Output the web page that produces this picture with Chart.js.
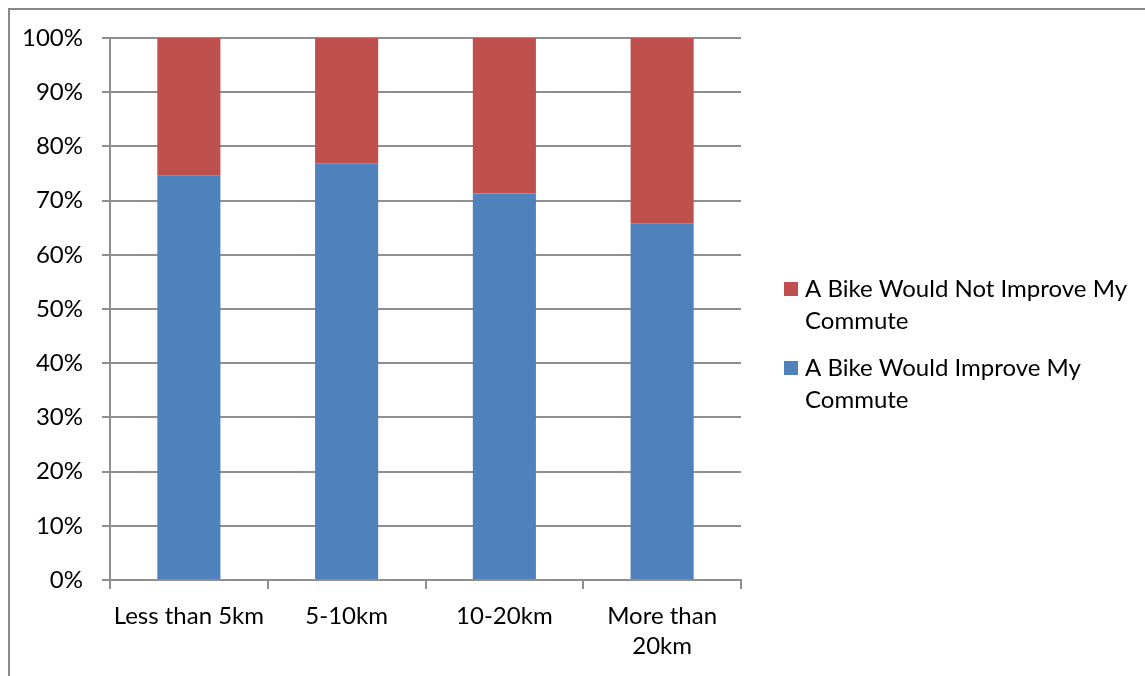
<!DOCTYPE html>
<html>
<head>
<meta charset="utf-8">
<title>Would a bike improve your commute?</title>
<script src="https://cdn.jsdelivr.net/npm/chart.js@4.4.1/dist/chart.umd.min.js"></script>
<style>
  html, body { margin: 0; padding: 0; background: #ffffff; }
  canvas { display: block; }
</style>
</head>
<body>
<canvas id="chart" width="1145" height="676"></canvas>
<script>
// Commute distance bands
const categories = ['Less than 5km', '5-10km', '10-20km', ['More than', '20km']];

// Share of respondents (%) in each band
const improveValues = [74.7, 76.9, 71.3, 65.8];
const notImproveValues = [25.3, 23.1, 28.7, 34.2];

const seriesNames = ['A Bike Would Improve My Commute', 'A Bike Would Not Improve My Commute'];

// Y axis ticks: 0% .. 100% in steps of 10
const yTickValues = [0, 10, 20, 30, 40, 50, 60, 70, 80, 90, 100];

const FONT = 'Lato, "Open Sans", "DejaVu Sans", sans-serif';
const FONT_SIZE = 24;
const GRID = '#8f8f8f';

// Thin frame around the chart object
const framePlugin = {
  id: 'frame',
  beforeDraw(chart) {
    const ctx = chart.ctx;
    ctx.save();
    ctx.fillStyle = '#ffffff';
    ctx.fillRect(0, 0, chart.width, chart.height);
    ctx.strokeStyle = '#888888';
    ctx.lineWidth = 2;
    ctx.strokeRect(9, 9, chart.width + 20, chart.height + 20);
    ctx.restore();
  }
};

// Legend on the right, wrapped over two lines, top series listed first
const sideLegend = {
  id: 'sideLegend',
  afterDraw(chart, args, opts) {
    const ctx = chart.ctx;
    ctx.save();
    ctx.font = FONT_SIZE + 'px ' + FONT;
    ctx.textBaseline = 'middle';
    ctx.textAlign = 'left';
    const wrap = (text) => {
      const words = text.split(' ');
      const lines = [];
      let cur = '';
      for (const w of words) {
        const t = cur ? cur + ' ' + w : w;
        if (cur && ctx.measureText(t).width > opts.maxWidth) {
          lines.push(cur);
          cur = w;
        } else {
          cur = t;
        }
      }
      if (cur) lines.push(cur);
      return lines;
    };
    const items = chart.data.datasets.map((ds, i) => ({ ds, i })).reverse();
    let y = opts.top;
    items.forEach(({ ds }) => {
      const lines = wrap(ds.label);
      ctx.fillStyle = ds.backgroundColor;
      ctx.fillRect(opts.x, y - opts.box / 2, opts.box, opts.box);
      ctx.fillStyle = '#000000';
      lines.forEach((ln, k) => {
        ctx.fillText(ln, opts.x + opts.box + opts.gap, y + k * opts.lineHeight);
      });
      y += lines.length * opts.lineHeight + opts.itemGap;
    });
    ctx.restore();
  }
};

new Chart(document.getElementById('chart'), {
  type: 'bar',
  data: {
    labels: categories,
    datasets: [
      {
        label: seriesNames[0],
        data: improveValues,
        backgroundColor: '#4F81BD',
        barPercentage: 0.4,
        categoryPercentage: 1.0
      },
      {
        label: seriesNames[1],
        data: notImproveValues,
        backgroundColor: '#C0504D',
        barPercentage: 0.4,
        categoryPercentage: 1.0
      }
    ]
  },
  options: {
    responsive: false,
    animation: false,
    layout: { padding: { left: 0, top: 38, right: 404, bottom: 0 } },
    plugins: {
      legend: { display: false },
      tooltip: { enabled: false },
      sideLegend: { x: 784, top: 289, box: 14, gap: 7, lineHeight: 32, itemGap: 15, maxWidth: 345 }
    },
    scales: {
      x: {
        stacked: true,
        offset: true,
        grid: {
          offset: true,
          drawOnChartArea: false,
          drawTicks: true,
          tickLength: 9,
          color: GRID,
          lineWidth: 2
        },
        border: { display: true, color: GRID, width: 2 },
        ticks: {
          color: '#000000',
          padding: 12,
          maxRotation: 0,
          autoSkip: false,
          font: { family: FONT, size: FONT_SIZE, lineHeight: 1.25 }
        },
        afterFit(scale) { scale.height = 96; }
      },
      y: {
        stacked: true,
        min: 0,
        max: 100,
        afterBuildTicks(scale) {
          scale.ticks = yTickValues.map(v => ({ value: v }));
        },
        grid: {
          color: GRID,
          lineWidth: 2,
          drawTicks: true,
          tickLength: 8
        },
        border: { display: true, color: GRID, width: 2 },
        ticks: {
          color: '#000000',
          padding: 19,
          callback: (v) => v + '%',
          font: { family: FONT, size: FONT_SIZE }
        },
        afterFit(scale) { scale.width = 110; }
      }
    }
  },
  plugins: [framePlugin, sideLegend]
});
</script>
</body>
</html>
